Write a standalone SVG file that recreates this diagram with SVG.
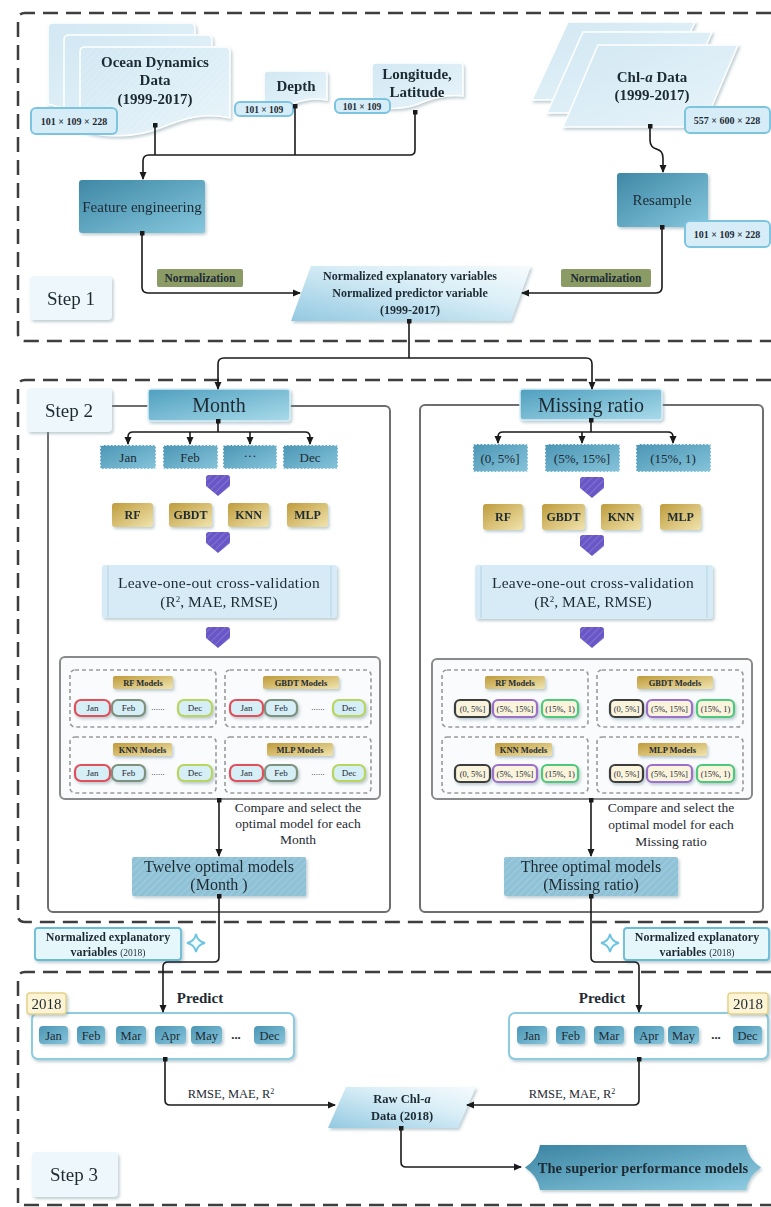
<svg xmlns="http://www.w3.org/2000/svg" width="771" height="1207" viewBox="0 0 771 1207">
<defs>
  <linearGradient id="gTeal" x1="0" y1="0" x2="1" y2="1">
    <stop offset="0" stop-color="#3f88a6"/><stop offset="1" stop-color="#86c7dd"/>
  </linearGradient>
  <linearGradient id="gHead" x1="0" y1="0" x2="1" y2="1">
    <stop offset="0" stop-color="#4f9fbf"/><stop offset="1" stop-color="#a9dbea"/>
  </linearGradient>
  <linearGradient id="gSub" x1="0" y1="0" x2="1" y2="1">
    <stop offset="0" stop-color="#4b96b5"/><stop offset="1" stop-color="#86c4da"/>
  </linearGradient>
  <linearGradient id="gPara" x1="0" y1="1" x2="1" y2="0">
    <stop offset="0" stop-color="#93c9e1"/><stop offset="0.6" stop-color="#d9eef7"/><stop offset="1" stop-color="#f6fbfd"/>
  </linearGradient>
  <linearGradient id="gDoc" x1="0" y1="0" x2="1" y2="1">
    <stop offset="0" stop-color="#d2e8f3"/><stop offset="1" stop-color="#e8f4fa"/>
  </linearGradient>
  <linearGradient id="gGold" x1="0" y1="0" x2="1" y2="1">
    <stop offset="0" stop-color="#bf9c3c"/><stop offset="1" stop-color="#f1e4ae"/>
  </linearGradient>
  <linearGradient id="gSup" x1="0" y1="0" x2="1" y2="1">
    <stop offset="0" stop-color="#3a84a2"/><stop offset="1" stop-color="#8fcde2"/>
  </linearGradient>
  <pattern id="hatch" width="5" height="5" patternUnits="userSpaceOnUse" patternTransform="rotate(45)">
    <line x1="0" y1="0" x2="0" y2="5" stroke="#ffffff" stroke-opacity="0.22" stroke-width="1.5"/>
  </pattern>
  <filter id="sh" x="-10%" y="-10%" width="125%" height="135%">
    <feDropShadow dx="1.5" dy="2" stdDeviation="1.5" flood-color="#6f8f9c" flood-opacity="0.45"/>
  </filter>
  <marker id="arr" viewBox="0 0 8 8" refX="7" refY="4" markerWidth="8" markerHeight="8" markerUnits="userSpaceOnUse" orient="auto">
    <path d="M0,0.5 L8,4 L0,7.5 Z" fill="#1a1a1a"/>
  </marker>
  <marker id="dot" viewBox="0 0 6 6" refX="3" refY="3" markerWidth="5" markerHeight="5" markerUnits="userSpaceOnUse">
    <rect x="0" y="0" width="6" height="6" rx="1" fill="#1a1a1a"/>
  </marker>
  <path id="chev" d="M-12,3 Q-12,0 -9,0 H9 Q12,0 12,3 V11 L0,21 L-12,11 Z"/>
</defs>
<style>
  .ser{font-family:"Liberation Serif","Times New Roman",serif;fill:#1e2a33}
  .b{font-weight:bold}
  .outer{fill:none;stroke:#3e3e3e;stroke-width:2.5;stroke-dasharray:15 8}
  .panel{fill:#ffffff;stroke:#6e6e6e;stroke-width:2}
  .mpanel{fill:#fafbfc;stroke:#8a8a8a;stroke-width:2}
  .dbox{fill:none;stroke:#9a9a9a;stroke-width:1.6;stroke-dasharray:4 3}
  .con{fill:none;stroke:#1a1a1a;stroke-width:1.6}
  .lbl{fill:#d6edf8;stroke:#7cc4e0;stroke-width:2}
  .doc{fill:url(#gDoc);stroke:#ffffff;stroke-width:1.5}
  .teal{fill:url(#gTeal)}
  .head{fill:url(#gHead);stroke:#d9eef6;stroke-width:1.5}
  .sub{fill:url(#gSub);stroke:#ffffff;stroke-width:1.5;stroke-dasharray:2 1.5}
  .gold{fill:url(#gGold)}
  .norm{fill:#8a9b66}
  .step{fill:#eef8fc}
  .chev{fill:#6a57c7}
  .loo{fill:#d6ebf5}
  .opt{fill:#8fc2d6}
  .pillB{fill:#d6eef6;stroke-width:2.2}
  .pillC{fill:#faf4dd;stroke-width:2.2}
  .item{fill:url(#gSub)}
  .yr{fill:#fcf4d4;stroke:#e3d28a;stroke-width:1.5}
  .row{fill:#ffffff;stroke:#8ccbe0;stroke-width:2}
  .nv{fill:#e6f7fc;stroke:#6bbbd6;stroke-width:1.8}
  .star{fill:#f2fbfe;stroke:#6cc4e0;stroke-width:1.8}
</style>

<!-- outer dashed step frames -->
<g id="frames">
  <path class="outer" d="M771,13 H25 Q18,13 18,20 V334 Q18,341 25,341 H771"/>
  <path class="outer" d="M771,380 H25 Q18,380 18,387 V915 Q18,922 25,922 H771"/>
  <path class="outer" d="M771,972 H25 Q18,972 18,979 V1207"/>
  <path class="outer" d="M24,1205 H771"/>
</g>

<!-- Step 1 nodes -->
<g id="ocean-data" filter="url(#sh)">
  <path class="doc" d="M48,28 Q48,23 53,23 H190 Q195,23 195,28 V94 C170,88 150,94 128,103 C105,112 72,112 48,104 Z"/>
  <path class="doc" d="M64,40 Q64,35 69,35 H207 Q212,35 212,40 V106 C187,100 167,106 145,115 C122,124 88,124 64,116 Z"/>
  <path class="doc" d="M80,52 Q80,47 85,47 H225 Q230,47 230,52 V118 C205,112 185,118 160,128 C135,138 102,138 80,130 Z"/>
  <path d="M80,52 Q80,47 85,47 H225 Q230,47 230,52 V118 C205,112 185,118 160,128 C135,138 102,138 80,130 Z" fill="url(#hatch)"/>
  <text class="ser b" x="155" y="67" font-size="15" text-anchor="middle">Ocean Dynamics</text>
  <text class="ser b" x="155" y="85" font-size="15" text-anchor="middle">Data</text>
  <text class="ser b" x="155" y="104" font-size="15" text-anchor="middle">(1999-2017)</text>
</g>
<g id="ocean-size">
  <rect class="lbl" x="31" y="108" width="86" height="26" rx="5"/>
  <text class="ser b" x="74" y="125" font-size="10" text-anchor="middle">101 × 109 × 228</text>
</g>
<g id="depth" filter="url(#sh)">
  <path class="doc" d="M264,75 Q264,71 268,71 H323 Q327,71 327,75 V100 C310,97 300,101 288,105 C278,108 270,108 264,106 Z"/>
  <text class="ser b" x="296" y="91" font-size="15" text-anchor="middle">Depth</text>
</g>
<g id="depth-size">
  <rect class="lbl" x="235" y="102" width="58" height="14" rx="5"/>
  <text class="ser b" x="264" y="112.5" font-size="9.5" text-anchor="middle">101 × 109</text>
</g>
<g id="lonlat" filter="url(#sh)">
  <path class="doc" d="M372,67 Q372,63 376,63 H459 Q463,63 463,67 V96 C445,94 430,99 418,104 C405,109 385,110 372,106 Z"/>
  <text class="ser b" x="417" y="79" font-size="15" text-anchor="middle">Longitude,</text>
  <text class="ser b" x="417" y="97" font-size="15" text-anchor="middle">Latitude</text>
</g>
<g id="lonlat-size">
  <rect class="lbl" x="335" y="99" width="55" height="14" rx="5"/>
  <text class="ser b" x="362" y="109.5" font-size="9.5" text-anchor="middle">101 × 109</text>
</g>
<g id="chl-data" filter="url(#sh)">
  <path class="doc" d="M568,22 H695 L660,100 H532 Z"/>
  <path class="doc" d="M583,32 H712 L677,113 H547 Z"/>
  <path class="doc" d="M598,45 H738 L703,127 H563 Z"/>
  <text class="ser b" x="652" y="82" font-size="15" text-anchor="middle">Chl-<tspan font-style="italic">a</tspan> Data</text>
  <text class="ser b" x="652" y="100" font-size="15" text-anchor="middle">(1999-2017)</text>
</g>
<g id="chl-size">
  <rect class="lbl" x="685" y="107" width="85" height="26" rx="5"/>
  <text class="ser b" x="727" y="124" font-size="10" text-anchor="middle">557 × 600 × 228</text>
</g>
<g id="feature-engineering" filter="url(#sh)">
  <rect class="teal" x="79" y="180" width="126" height="53" rx="3"/>
  <text class="ser" x="142" y="212" font-size="15" text-anchor="middle">Feature engineering</text>
</g>
<g id="resample" filter="url(#sh)">
  <rect class="teal" x="617" y="173" width="91" height="54" rx="3"/>
  <text class="ser" x="662" y="205" font-size="15" text-anchor="middle">Resample</text>
</g>
<g id="resample-size">
  <rect class="lbl" x="685" y="221" width="85" height="26" rx="5"/>
  <text class="ser b" x="727" y="238" font-size="10" text-anchor="middle">101 × 109 × 228</text>
</g>
<g id="norm-left">
  <rect class="norm" x="157" y="269" width="86" height="18" rx="2"/>
  <text class="ser b" x="200" y="282" font-size="11.5" text-anchor="middle">Normalization</text>
</g>
<g id="norm-right">
  <rect class="norm" x="561" y="269" width="90" height="18" rx="2"/>
  <text class="ser b" x="606" y="282" font-size="11.5" text-anchor="middle">Normalization</text>
</g>
<g id="normalized-vars" filter="url(#sh)">
  <path d="M311,266 H531 L511,321 H291 Z" fill="url(#gPara)"/>
  <text class="ser b" x="410" y="280" font-size="12" text-anchor="middle">Normalized explanatory variables</text>
  <text class="ser b" x="410" y="297" font-size="12" text-anchor="middle">Normalized predictor variable</text>
  <text class="ser b" x="410" y="314" font-size="12" text-anchor="middle">(1999-2017)</text>
</g>
<g id="step1" filter="url(#sh)">
  <rect class="step" x="30" y="276" width="82" height="44" rx="4"/>
  <text class="ser" x="71" y="305" font-size="19" text-anchor="middle">Step 1</text>
</g>

<!-- Step 2 panels -->
<g id="panel-month">
  <rect class="panel" x="48" y="406" width="342" height="506" rx="5"/>
</g>
<g id="panel-missing">
  <rect class="panel" x="420" y="405" width="343" height="507" rx="5"/>
</g>
<g id="step2" filter="url(#sh)">
  <rect class="step" x="27" y="388" width="85" height="44" rx="4"/>
  <text class="ser" x="69" y="417" font-size="19" text-anchor="middle">Step 2</text>
</g>
<g id="month" filter="url(#sh)">
  <rect class="head" x="148" y="389" width="142" height="32" rx="3"/>
  <text class="ser" x="219" y="412" font-size="20" text-anchor="middle">Month</text>
</g>
<g id="missing-ratio" filter="url(#sh)">
  <rect class="head" x="520" y="389" width="142" height="31" rx="3"/>
  <text class="ser" x="591" y="412" font-size="20" text-anchor="middle">Missing ratio</text>
</g>
<g id="month-groups">
  <rect class="sub" x="100" y="445" width="56" height="24" rx="2"/>
  <text class="ser" x="128" y="462" font-size="13" text-anchor="middle">Jan</text>
  <rect class="sub" x="163" y="445" width="55" height="24" rx="2"/>
  <text class="ser" x="190" y="462" font-size="13" text-anchor="middle">Feb</text>
  <rect class="sub" x="223" y="445" width="54" height="24" rx="2"/>
  <text class="ser" x="250" y="460" font-size="13" text-anchor="middle">···</text>
  <rect class="sub" x="283" y="445" width="55" height="24" rx="2"/>
  <text class="ser" x="310" y="462" font-size="13" text-anchor="middle">Dec</text>
</g>
<g id="ratio-groups">
  <rect class="sub" x="473" y="444" width="55" height="28" rx="2"/>
  <text class="ser" x="500" y="463" font-size="13" text-anchor="middle">(0, 5%]</text>
  <rect class="sub" x="545" y="444" width="75" height="28" rx="2"/>
  <text class="ser" x="582" y="463" font-size="13" text-anchor="middle">(5%, 15%]</text>
  <rect class="sub" x="636" y="444" width="75" height="28" rx="2"/>
  <text class="ser" x="673" y="463" font-size="13" text-anchor="middle">(15%, 1)</text>
</g>
<g id="chevrons">
  <use href="#chev" class="chev" x="218" y="475"/>
  <use href="#chev" class="chev" x="218" y="532"/>
  <use href="#chev" class="chev" x="218" y="627"/>
  <use href="#chev" class="chev" x="592" y="477"/>
  <use href="#chev" class="chev" x="592" y="535"/>
  <use href="#chev" class="chev" x="592" y="627"/>
  <use href="#chev" fill="url(#hatch)" x="218" y="475"/>
  <use href="#chev" fill="url(#hatch)" x="218" y="532"/>
  <use href="#chev" fill="url(#hatch)" x="218" y="627"/>
  <use href="#chev" fill="url(#hatch)" x="592" y="477"/>
  <use href="#chev" fill="url(#hatch)" x="592" y="535"/>
  <use href="#chev" fill="url(#hatch)" x="592" y="627"/>
</g>
<g id="algos-month" filter="url(#sh)">
  <rect class="gold" x="112" y="503" width="41" height="24" rx="3"/>
  <text class="ser b" x="132.5" y="519" font-size="12" text-anchor="middle">RF</text>
  <rect class="gold" x="169" y="503" width="43" height="24" rx="3"/>
  <text class="ser b" x="190.5" y="519" font-size="12" text-anchor="middle">GBDT</text>
  <rect class="gold" x="228" y="503" width="41" height="24" rx="3"/>
  <text class="ser b" x="248.5" y="519" font-size="12" text-anchor="middle">KNN</text>
  <rect class="gold" x="287" y="503" width="41" height="24" rx="3"/>
  <text class="ser b" x="307.5" y="519" font-size="12" text-anchor="middle">MLP</text>
</g>
<g id="algos-ratio" filter="url(#sh)">
  <rect class="gold" x="483" y="504" width="40" height="26" rx="3"/>
  <text class="ser b" x="503" y="521" font-size="12" text-anchor="middle">RF</text>
  <rect class="gold" x="542" y="504" width="43" height="26" rx="3"/>
  <text class="ser b" x="563.5" y="521" font-size="12" text-anchor="middle">GBDT</text>
  <rect class="gold" x="601" y="504" width="40" height="26" rx="3"/>
  <text class="ser b" x="621" y="521" font-size="12" text-anchor="middle">KNN</text>
  <rect class="gold" x="660" y="504" width="41" height="26" rx="3"/>
  <text class="ser b" x="680.5" y="521" font-size="12" text-anchor="middle">MLP</text>
</g>
<g id="loo-month" filter="url(#sh)">
  <rect class="loo" x="102" y="565" width="235" height="53" rx="3"/>
  <line x1="108" y1="566" x2="108" y2="617" stroke="#b9d8e8" stroke-width="1.2"/>
  <line x1="331" y1="566" x2="331" y2="617" stroke="#b9d8e8" stroke-width="1.2"/>
  <text class="ser" x="219" y="588" font-size="15.5" text-anchor="middle" letter-spacing="0.3">Leave-one-out cross-validation</text>
  <text class="ser" x="219" y="607" font-size="15.5" text-anchor="middle">(R<tspan baseline-shift="super" font-size="9">2</tspan>, MAE, RMSE)</text>
</g>
<g id="loo-ratio" filter="url(#sh)">
  <rect class="loo" x="475" y="565" width="238" height="54" rx="3"/>
  <line x1="481" y1="566" x2="481" y2="618" stroke="#b9d8e8" stroke-width="1.2"/>
  <line x1="707" y1="566" x2="707" y2="618" stroke="#b9d8e8" stroke-width="1.2"/>
  <text class="ser" x="593" y="588" font-size="15.5" text-anchor="middle" letter-spacing="0.3">Leave-one-out cross-validation</text>
  <text class="ser" x="593" y="607" font-size="15.5" text-anchor="middle">(R<tspan baseline-shift="super" font-size="9">2</tspan>, MAE, RMSE)</text>
</g>

<!-- model panels (Month) -->
<g id="models-month">
  <rect class="mpanel" x="60" y="657" width="320" height="142" rx="5"/>
  <rect class="dbox" x="70" y="670" width="146" height="57" rx="5"/>
  <rect class="dbox" x="225" y="670" width="146" height="57" rx="5"/>
  <rect class="dbox" x="70" y="737" width="146" height="56" rx="5"/>
  <rect class="dbox" x="225" y="737" width="146" height="56" rx="5"/>
  <g filter="url(#sh)">
    <rect class="gold" x="113" y="676" width="60" height="13" rx="2"/>
    <rect class="gold" x="263" y="676" width="76" height="13" rx="2"/>
    <rect class="gold" x="113" y="743" width="59" height="13" rx="2"/>
    <rect class="gold" x="267" y="743" width="66" height="13" rx="2"/>
  </g>
  <text class="ser b" x="143" y="686" font-size="8.5" text-anchor="middle">RF Models</text>
  <text class="ser b" x="301" y="686" font-size="8.5" text-anchor="middle">GBDT Models</text>
  <text class="ser b" x="142.5" y="753" font-size="8.5" text-anchor="middle">KNN Models</text>
  <text class="ser b" x="300" y="753" font-size="8.5" text-anchor="middle">MLP Models</text>
  <g filter="url(#sh)">
    <rect class="pillB" stroke="#e0505a" x="75" y="700" width="35" height="16" rx="6"/>
    <rect class="pillB" stroke="#7d917d" x="112" y="700" width="33" height="16" rx="6"/>
    <rect class="pillB" stroke="#b9d45e" x="178" y="700" width="34" height="16" rx="6"/>
    <rect class="pillB" stroke="#e0505a" x="230" y="700" width="33" height="16" rx="6"/>
    <rect class="pillB" stroke="#7d917d" x="265" y="700" width="32" height="16" rx="6"/>
    <rect class="pillB" stroke="#b9d45e" x="333" y="700" width="32" height="16" rx="6"/>
    <rect class="pillB" stroke="#e0505a" x="75" y="765" width="35" height="16" rx="6"/>
    <rect class="pillB" stroke="#7d917d" x="112" y="765" width="33" height="16" rx="6"/>
    <rect class="pillB" stroke="#b9d45e" x="178" y="765" width="34" height="16" rx="6"/>
    <rect class="pillB" stroke="#e0505a" x="230" y="765" width="33" height="16" rx="6"/>
    <rect class="pillB" stroke="#7d917d" x="265" y="765" width="32" height="16" rx="6"/>
    <rect class="pillB" stroke="#b9d45e" x="333" y="765" width="32" height="16" rx="6"/>
  </g>
  <g class="ser" font-size="9" text-anchor="middle">
    <text x="92.5" y="711">Jan</text><text x="128.5" y="711">Feb</text><text x="158" y="710">......</text><text x="195" y="711">Dec</text>
    <text x="246.5" y="711">Jan</text><text x="281" y="711">Feb</text><text x="318" y="710">......</text><text x="349" y="711">Dec</text>
    <text x="92.5" y="776">Jan</text><text x="128.5" y="776">Feb</text><text x="158" y="775">......</text><text x="195" y="776">Dec</text>
    <text x="246.5" y="776">Jan</text><text x="281" y="776">Feb</text><text x="318" y="775">......</text><text x="349" y="776">Dec</text>
  </g>
</g>

<!-- model panels (Missing ratio) -->
<g id="models-ratio">
  <rect class="mpanel" x="432" y="659" width="320" height="140" rx="5"/>
  <rect class="dbox" x="442" y="670" width="146" height="57" rx="5"/>
  <rect class="dbox" x="597" y="670" width="146" height="57" rx="5"/>
  <rect class="dbox" x="442" y="737" width="146" height="56" rx="5"/>
  <rect class="dbox" x="597" y="737" width="146" height="56" rx="5"/>
  <g filter="url(#sh)">
    <rect class="gold" x="485" y="676" width="60" height="13" rx="2"/>
    <rect class="gold" x="637" y="676" width="76" height="13" rx="2"/>
    <rect class="gold" x="495" y="743" width="57" height="13" rx="2"/>
    <rect class="gold" x="638" y="743" width="69" height="13" rx="2"/>
  </g>
  <text class="ser b" x="515" y="686" font-size="8.5" text-anchor="middle">RF Models</text>
  <text class="ser b" x="675" y="686" font-size="8.5" text-anchor="middle">GBDT Models</text>
  <text class="ser b" x="523.5" y="753" font-size="8.5" text-anchor="middle">KNN Models</text>
  <text class="ser b" x="672.5" y="753" font-size="8.5" text-anchor="middle">MLP Models</text>
  <g filter="url(#sh)">
    <rect class="pillC" stroke="#3e3e3e" x="455" y="700" width="35" height="17" rx="5"/>
    <rect class="pillC" stroke="#9b6fcb" x="493" y="700" width="44" height="17" rx="5"/>
    <rect class="pillC" stroke="#4ec87c" x="542" y="700" width="36" height="17" rx="5"/>
    <rect class="pillC" stroke="#3e3e3e" x="610" y="700" width="33" height="17" rx="5"/>
    <rect class="pillC" stroke="#9b6fcb" x="647" y="700" width="45" height="17" rx="5"/>
    <rect class="pillC" stroke="#4ec87c" x="697" y="700" width="37" height="17" rx="5"/>
    <rect class="pillC" stroke="#3e3e3e" x="455" y="765" width="35" height="17" rx="5"/>
    <rect class="pillC" stroke="#9b6fcb" x="493" y="765" width="44" height="17" rx="5"/>
    <rect class="pillC" stroke="#4ec87c" x="542" y="765" width="36" height="17" rx="5"/>
    <rect class="pillC" stroke="#3e3e3e" x="610" y="765" width="33" height="17" rx="5"/>
    <rect class="pillC" stroke="#9b6fcb" x="647" y="765" width="45" height="17" rx="5"/>
    <rect class="pillC" stroke="#4ec87c" x="697" y="765" width="37" height="17" rx="5"/>
  </g>
  <g class="ser" font-size="8.5" text-anchor="middle">
    <text x="472.5" y="711.5">(0, 5%]</text><text x="515" y="711.5">(5%, 15%]</text><text x="560" y="711.5">(15%, 1)</text>
    <text x="626.5" y="711.5">(0, 5%]</text><text x="669.5" y="711.5">(5%, 15%]</text><text x="715.5" y="711.5">(15%, 1)</text>
    <text x="472.5" y="776.5">(0, 5%]</text><text x="515" y="776.5">(5%, 15%]</text><text x="560" y="776.5">(15%, 1)</text>
    <text x="626.5" y="776.5">(0, 5%]</text><text x="669.5" y="776.5">(5%, 15%]</text><text x="715.5" y="776.5">(15%, 1)</text>
  </g>
</g>

<g id="compare-month">
  <text class="ser" x="298" y="812" font-size="13.5" text-anchor="middle">Compare and select the</text>
  <text class="ser" x="298" y="828" font-size="13.5" text-anchor="middle">optimal model for each</text>
  <text class="ser" x="298" y="844" font-size="13.5" text-anchor="middle">Month</text>
</g>
<g id="compare-ratio">
  <text class="ser" x="671" y="812" font-size="13.5" text-anchor="middle">Compare and select the</text>
  <text class="ser" x="671" y="829" font-size="13.5" text-anchor="middle">optimal model for each</text>
  <text class="ser" x="671" y="846" font-size="13.5" text-anchor="middle">Missing ratio</text>
</g>
<g id="twelve-models" filter="url(#sh)">
  <rect class="opt" x="132" y="857" width="174" height="39" rx="2"/>
  <rect fill="url(#hatch)" x="132" y="857" width="174" height="39" rx="2"/>
  <text class="ser" x="219" y="872" font-size="16" text-anchor="middle">Twelve optimal models</text>
  <text class="ser" x="219" y="890" font-size="16" text-anchor="middle">(Month )</text>
</g>
<g id="three-models" filter="url(#sh)">
  <rect class="opt" x="504" y="857" width="174" height="39" rx="2"/>
  <rect fill="url(#hatch)" x="504" y="857" width="174" height="39" rx="2"/>
  <text class="ser" x="591" y="872" font-size="16" text-anchor="middle">Three optimal models</text>
  <text class="ser" x="591" y="890" font-size="16" text-anchor="middle">(Missing ratio)</text>
</g>

<!-- between steps -->
<g id="nv-left" filter="url(#sh)">
  <rect class="nv" x="35" y="928" width="146" height="32" rx="3"/>
  <text class="ser b" x="108" y="941" font-size="12" text-anchor="middle">Normalized explanatory</text>
  <text class="ser b" x="108" y="956" font-size="12" text-anchor="middle">variables <tspan font-weight="normal" font-size="9.5">(2018)</tspan></text>
</g>
<g id="plus-left"><path class="star" d="M196,934 Q197.5,941.5 205,943 Q197.5,944.5 196,952 Q194.5,944.5 187,943 Q194.5,941.5 196,934 Z"/></g>
<g id="nv-right" filter="url(#sh)">
  <rect class="nv" x="624" y="928" width="145" height="32" rx="3"/>
  <text class="ser b" x="697" y="941" font-size="12" text-anchor="middle">Normalized explanatory</text>
  <text class="ser b" x="697" y="956" font-size="12" text-anchor="middle">variables <tspan font-weight="normal" font-size="9.5">(2018)</tspan></text>
</g>
<g id="plus-right"><path class="star" d="M610,934 Q611.5,941.5 619,943 Q611.5,944.5 610,952 Q608.5,944.5 601,943 Q608.5,941.5 610,934 Z"/></g>

<!-- Step 3 -->
<g id="predict-left">
  <rect class="row" x="32" y="1013" width="262" height="46" rx="6" filter="url(#sh)"/>
  <text class="ser b" x="200" y="1003" font-size="15" text-anchor="middle">Predict</text>
  <g filter="url(#sh)">
    <rect class="item" x="39" y="1026" width="29" height="18" rx="4"/>
    <rect class="item" x="77" y="1026" width="28" height="18" rx="4"/>
    <rect class="item" x="116" y="1026" width="30" height="18" rx="4"/>
    <rect class="item" x="155" y="1026" width="31" height="18" rx="4"/>
    <rect class="item" x="191" y="1026" width="31" height="18" rx="4"/>
    <rect class="item" x="254" y="1026" width="31" height="18" rx="4"/>
  </g>
  <g class="ser" font-size="12.5" text-anchor="middle">
    <text x="53.5" y="1039.5">Jan</text><text x="91" y="1039.5">Feb</text><text x="131" y="1039.5">Mar</text><text x="170.5" y="1039.5">Apr</text><text x="206.5" y="1039.5">May</text><text x="236" y="1039" font-weight="bold">...</text><text x="269.5" y="1039.5">Dec</text>
  </g>
</g>
<g id="year-left" filter="url(#sh)">
  <rect class="yr" x="27" y="993" width="39" height="21" rx="3"/>
  <text class="ser" x="46.5" y="1009" font-size="15" text-anchor="middle">2018</text>
</g>
<g id="predict-right">
  <rect class="row" x="509" y="1013" width="259" height="46" rx="6" filter="url(#sh)"/>
  <text class="ser b" x="602" y="1003" font-size="15" text-anchor="middle">Predict</text>
  <g filter="url(#sh)">
    <rect class="item" x="517" y="1026" width="30" height="18" rx="4"/>
    <rect class="item" x="556" y="1026" width="29" height="18" rx="4"/>
    <rect class="item" x="594" y="1026" width="30" height="18" rx="4"/>
    <rect class="item" x="634" y="1026" width="30" height="18" rx="4"/>
    <rect class="item" x="668" y="1026" width="31" height="18" rx="4"/>
    <rect class="item" x="733" y="1026" width="29" height="18" rx="4"/>
  </g>
  <g class="ser" font-size="12.5" text-anchor="middle">
    <text x="532" y="1039.5">Jan</text><text x="570.5" y="1039.5">Feb</text><text x="609" y="1039.5">Mar</text><text x="649" y="1039.5">Apr</text><text x="683.5" y="1039.5">May</text><text x="716" y="1039" font-weight="bold">...</text><text x="747.5" y="1039.5">Dec</text>
  </g>
</g>
<g id="year-right" filter="url(#sh)">
  <rect class="yr" x="728" y="993" width="40" height="21" rx="3"/>
  <text class="ser" x="748" y="1009" font-size="15" text-anchor="middle">2018</text>
</g>
<g id="raw-chl" filter="url(#sh)">
  <path d="M346,1087 H476 L458,1128 H328 Z" fill="url(#gPara)"/>
  <text class="ser b" x="402" y="1103" font-size="12.5" text-anchor="middle">Raw Chl-<tspan font-style="italic">a</tspan></text>
  <text class="ser b" x="402" y="1120" font-size="12.5" text-anchor="middle">Data (2018)</text>
</g>
<g id="superior" filter="url(#sh)">
  <path d="M540,1145 H746 Q748,1159 761,1167.5 Q748,1176 746,1190 H540 Q538,1176 525,1167.5 Q538,1159 540,1145 Z" fill="url(#gSup)"/>
  <text class="ser b" x="643" y="1172.5" font-size="14.5" text-anchor="middle">The superior performance models</text>
</g>
<g id="step3" filter="url(#sh)">
  <rect class="step" x="32" y="1152" width="86" height="45" rx="4"/>
  <text class="ser" x="74" y="1181" font-size="19" text-anchor="middle">Step 3</text>
</g>

<!-- connectors -->
<g id="connectors">
  <path class="con" d="M415,112 V150 Q415,155 410,155 H149 Q143,155 143,161 V179" marker-start="url(#dot)" marker-end="url(#arr)"/>
  <path class="con" d="M295,106 V155" marker-start="url(#dot)"/>
  <path class="con" d="M155,125 V155" marker-start="url(#dot)"/>
  <path class="con" d="M650,126 V140 C650,153 663,145 663,158 V172" marker-start="url(#dot)" marker-end="url(#arr)"/>
  <path class="con" d="M142,233 V287 Q142,293 148,293 H300" marker-start="url(#dot)" marker-end="url(#arr)"/>
  <path class="con" d="M662,227 V287 Q662,293 656,293 H522" marker-start="url(#dot)" marker-end="url(#arr)"/>
  <path class="con" d="M409,321 V358" marker-start="url(#dot)"/>
  <path class="con" d="M409,358 H224 Q218,358 218,364 V389" marker-end="url(#arr)"/>
  <path class="con" d="M409,358 H586 Q592,358 592,364 V389" marker-end="url(#arr)"/>

  <path class="con" d="M218,421 V432" marker-start="url(#dot)"/>
  <path class="con" d="M218,432 H133 Q128,432 128,437 V444" marker-end="url(#arr)"/>
  <path class="con" d="M218,432 H305 Q310,432 310,437 V444" marker-end="url(#arr)"/>
  <path class="con" d="M190,432 V444" marker-end="url(#arr)"/>
  <path class="con" d="M250,432 V444" marker-end="url(#arr)"/>

  <path class="con" d="M591,420 V432" marker-start="url(#dot)"/>
  <path class="con" d="M591,432 H503 Q498,432 498,437 V443" marker-end="url(#arr)"/>
  <path class="con" d="M591,432 H668 Q673,432 673,437 V443" marker-end="url(#arr)"/>
  <path class="con" d="M582,432 V443" marker-end="url(#arr)"/>

  <path class="con" d="M219,800 V856" marker-start="url(#dot)" marker-end="url(#arr)"/>
  <path class="con" d="M591,800 V856" marker-start="url(#dot)" marker-end="url(#arr)"/>

  <path class="con" d="M219,896 V957 Q219,962 214,962 H168 Q163,962 163,967 V1012" marker-start="url(#dot)" marker-end="url(#arr)"/>
  <path class="con" d="M591,896 V957 Q591,962 596,962 H634 Q639,962 639,967 V1012" marker-start="url(#dot)" marker-end="url(#arr)"/>

  <path class="con" d="M165,1059 V1100 Q165,1105 170,1105 H335" marker-start="url(#dot)" marker-end="url(#arr)"/>
  <path class="con" d="M639,1059 V1100 Q639,1105 634,1105 H467" marker-start="url(#dot)" marker-end="url(#arr)"/>
  <path class="con" d="M401,1128 V1162 Q401,1167 406,1167 H521" marker-start="url(#dot)" marker-end="url(#arr)"/>
</g>
<g id="metric-labels">
  <text class="ser" x="231" y="1098" font-size="12.5" text-anchor="middle">RMSE, MAE, R<tspan baseline-shift="super" font-size="8">2</tspan></text>
  <text class="ser" x="572" y="1098" font-size="12.5" text-anchor="middle">RMSE, MAE, R<tspan baseline-shift="super" font-size="8">2</tspan></text>
</g>
</svg>
